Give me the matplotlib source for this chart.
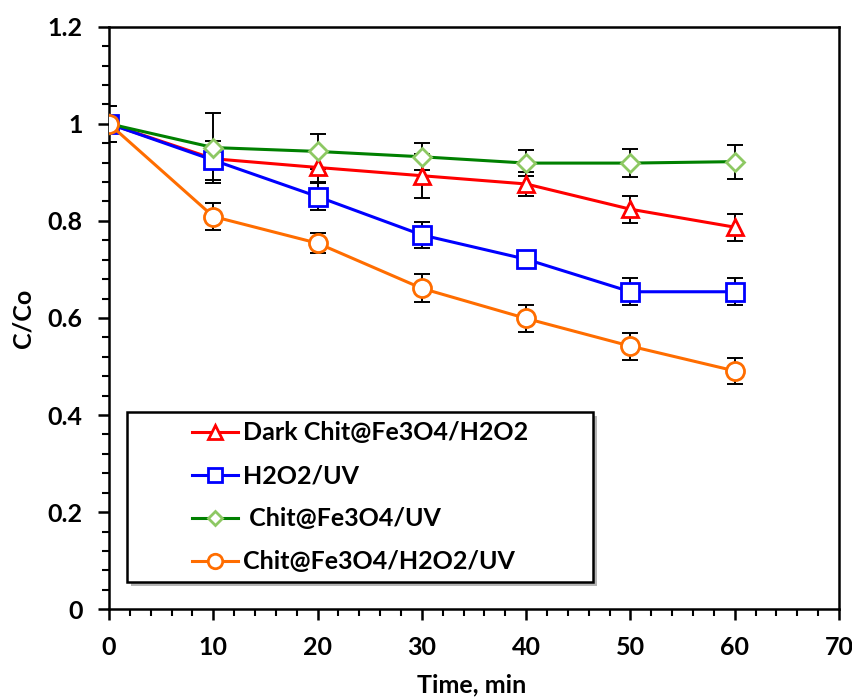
import numpy as np
import matplotlib
matplotlib.use("Agg")
import matplotlib.pyplot as plt
import matplotlib.transforms as mtransforms
from matplotlib.patches import Rectangle
from matplotlib.ticker import MultipleLocator, FuncFormatter

plt.rcParams['font.family'] = ['Lato', 'DejaVu Sans']
plt.rcParams['font.weight'] = 'bold'

# sampling times, min
time = [0, 10, 20, 30, 40, 50, 60]

# C/Co for each treatment, with standard deviations
dark_cc = [1.0, 0.928, 0.910, 0.893, 0.876, 0.824, 0.787]
dark_err = [0.037, 0.02, 0.03, 0.045, 0.024, 0.028, 0.028]

uv_cc = [1.0, 0.925, 0.850, 0.771, 0.721, 0.654, 0.654]
uv_err = [0.037, 0.04, 0.027, 0.027, 0.01, 0.028, 0.028]

chit_uv_cc = [1.0, 0.951, 0.943, 0.932, 0.919, 0.919, 0.922]
chit_uv_err = [0.037, 0.072, 0.036, 0.028, 0.027, 0.028, 0.035]

full_cc = [1.0, 0.809, 0.754, 0.661, 0.599, 0.542, 0.491]
full_err = [0.037, 0.027, 0.02, 0.029, 0.028, 0.028, 0.027]

labels = ["Dark Chit@Fe3O4/H2O2", "H2O2/UV", " Chit@Fe3O4/UV", "Chit@Fe3O4/H2O2/UV"]

fig = plt.figure(figsize=(8.53, 6.98), dpi=100)
ax = fig.add_axes([0.1278, 0.1271, 0.8558, 0.8347])

series = [
    (dark_cc, dark_err, 'red', '^', 'red', 12),
    (uv_cc, uv_err, 'blue', 's', 'blue', 13),
    (chit_uv_cc, chit_uv_err, '#008000', 'D', '#8DC863', 9.5),
    (full_cc, full_err, '#FF6D00', 'o', '#FF6D00', 13),
]
for y, e, *_ in series:
    ax.errorbar(time, y, yerr=e, fmt='none', ecolor='black', elinewidth=1.4,
                capsize=6, capthick=1.4, zorder=2)

handles = []
for (y, e, lc, mk, mc, ms), lab in zip(series, labels):
    h, = ax.plot(time, y, color=lc, lw=2.2, marker=mk, markersize=ms,
                 markerfacecolor='white', markeredgecolor=mc,
                 markeredgewidth=2, label=lab, zorder=3)
    handles.append(h)

ax.set_xlim(0, 70)
ax.set_ylim(0, 1.2)
ax.xaxis.set_major_locator(MultipleLocator(10))
ax.xaxis.set_minor_locator(MultipleLocator(2))
ax.yaxis.set_major_locator(MultipleLocator(0.2))
ax.yaxis.set_minor_locator(MultipleLocator(0.04))
ax.yaxis.set_major_formatter(FuncFormatter(lambda v, p: f"{v:g}"))

ax.tick_params(which='major', direction='out', length=8, width=1.8, labelsize=18)
ax.tick_params(which='minor', direction='out', length=5, width=1.5)
ax.tick_params(axis='x', pad=11)
ax.tick_params(axis='y', pad=11)
for s in ax.spines.values():
    s.set_linewidth(1.8)

ax.set_xlabel("Time, min", fontsize=18, fontweight='bold', va='bottom')
ax.xaxis.set_label_coords(0.497, -0.1495)
ax.set_ylabel("C/Co", fontsize=18, fontweight='bold', va='center')
ax.yaxis.set_label_coords(-0.118, 0.5)

# legend frame drawn by hand so it can be wider than its entries
box = (0.0247, 0.0469)
box_w, box_h = 0.6384, 0.2918
shade_tr = mtransforms.offset_copy(ax.transAxes, fig=fig, x=4, y=-4, units='dots')
ax.add_patch(Rectangle(box, box_w, box_h, transform=shade_tr,
                       facecolor='#b5b5b5', edgecolor='none', zorder=3.9))
ax.add_patch(Rectangle(box, box_w, box_h, transform=ax.transAxes,
                       facecolor='white', edgecolor='black', lw=1.8, zorder=4))

leg = ax.legend(handles=handles, loc='center left', bbox_to_anchor=(0.1137, 0.192),
                fontsize=18, frameon=False, handlelength=1.85, handletextpad=0.2,
                borderpad=0, labelspacing=0.8, borderaxespad=0, markerscale=0.8)
leg.set_zorder(5)

fig.savefig("out.png", dpi=100)
